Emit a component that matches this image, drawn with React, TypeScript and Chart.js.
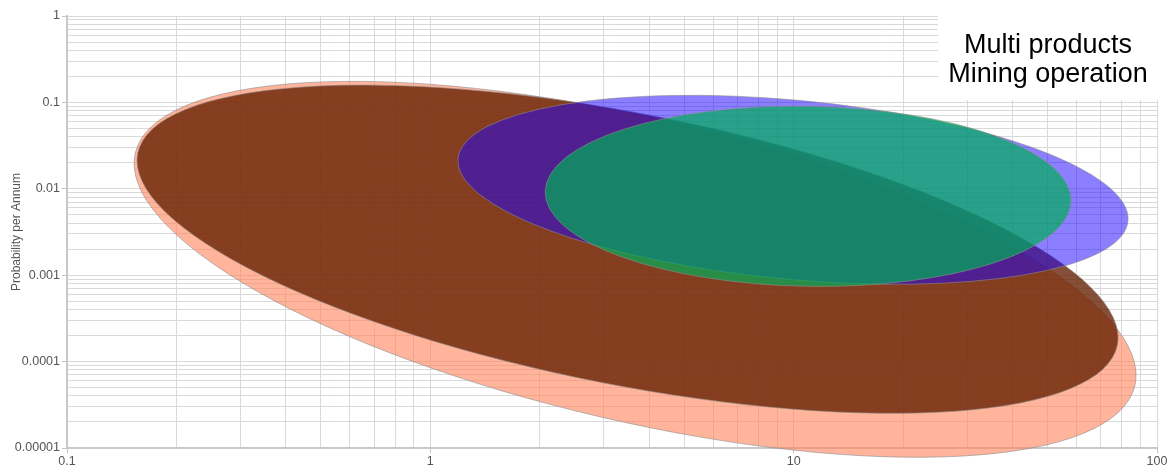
import { useEffect, useRef } from "react";
import { Chart, registerables } from "chart.js";

Chart.register(...registerables);

// ---- axis ticks ----
const xMajorTicks = [0.1, 1, 10, 100];
const xTickLabels = ["0.1", "1", "10", "100"];
const yMajorTicks = [0.00001, 0.0001, 0.001, 0.01, 0.1, 1];
const yTickLabels = ["0.00001", "0.0001", "0.001", "0.01", "0.1", "1"];
const minorMultipliers = [1, 2, 3, 4, 5, 6, 7, 8, 9];

// ---- series: each ellipse given by its centre, the end of its major axis and the end of its minor axis ----
const seriesNames = ["Product group A", "Product group B", "Product group C", "Product group D"];
const ellipseCentres = [
  [3.66, 0.00117],
  [3.49, 0.002],
  [9.96, 0.00974],
  [10.96, 0.00819],
];
const majorAxisEnds = [
  [86.9, 0.0000527],
  [77.8, 0.0001556],
  [83.2, 0.00424],
  [58.0, 0.00724],
];
const minorAxisEnds = [
  [2.94, 0.0000229],
  [2.96, 0.0000573],
  [9.45, 0.000904],
  [10.84, 0.000744],
];
const fillColours = [
  "rgba(255,130,88,0.6)",
  "rgba(100,30,0,0.78)",
  "rgba(25,0,255,0.5)",
  "rgba(0,175,88,0.7)",
];

const titleLines = ["Multi products", "Mining operation"];
const yAxisTitle = "Probability per Annum";

const FONT = '"Liberation Sans", Arial, sans-serif';

function buildTicks(majors: number[]) {
  const out: { value: number; major: boolean }[] = [];
  for (let i = 0; i < majors.length; i++) {
    if (i === majors.length - 1) {
      out.push({ value: majors[i], major: true });
    } else {
      for (const k of minorMultipliers) {
        out.push({ value: parseFloat((majors[i] * k).toPrecision(8)), major: k === 1 });
      }
    }
  }
  return out;
}

function labelFor(v: number, majors: number[], labels: string[]) {
  for (let i = 0; i < majors.length; i++) {
    if (Math.abs(Math.log10(v) - Math.log10(majors[i])) < 1e-7) return labels[i];
  }
  return "";
}

const ellipsePlugin = {
  id: "ellipses",
  afterDatasetsDraw(chart: any) {
    const { ctx } = chart;
    const xs = chart.scales.x;
    const ys = chart.scales.y;
    chart.data.datasets.forEach((ds: any) => {
      const [c, m, n] = ds.data;
      const cx = xs.getPixelForValue(c.x);
      const cy = ys.getPixelForValue(c.y);
      const mx = xs.getPixelForValue(m.x) - cx;
      const my = ys.getPixelForValue(m.y) - cy;
      const nx = xs.getPixelForValue(n.x) - cx;
      const ny = ys.getPixelForValue(n.y) - cy;
      ctx.save();
      ctx.beginPath();
      ctx.ellipse(cx, cy, Math.hypot(mx, my), Math.hypot(nx, ny), Math.atan2(my, mx), 0, Math.PI * 2);
      ctx.fillStyle = ds.backgroundColor;
      ctx.fill();
      ctx.strokeStyle = ds.borderColor;
      ctx.lineWidth = ds.borderWidth;
      ctx.stroke();
      ctx.restore();
    });
  },
  afterDraw(chart: any) {
    const { ctx, chartArea } = chart;
    const right = chartArea.right + 3;
    const left = right - 222;
    ctx.save();
    ctx.fillStyle = "#ffffff";
    ctx.fillRect(left, 6, right - left, 94);
    ctx.fillStyle = "#000000";
    ctx.font = `27px ${FONT}`;
    ctx.textAlign = "center";
    ctx.textBaseline = "alphabetic";
    const mid = (left + right) / 2 - 1;
    ctx.fillText(titleLines[0], mid, 53);
    ctx.fillText(titleLines[1], mid, 82);
    ctx.restore();
  },
};

export default function App() {
  const ref = useRef<HTMLCanvasElement>(null);
  useEffect(() => {
    document.body.style.margin = "0";
    const canvas = ref.current!;
    const datasets = seriesNames.map((name, i) => ({
      label: name,
      data: [
        { x: ellipseCentres[i][0], y: ellipseCentres[i][1] },
        { x: majorAxisEnds[i][0], y: majorAxisEnds[i][1] },
        { x: minorAxisEnds[i][0], y: minorAxisEnds[i][1] },
      ],
      backgroundColor: fillColours[i],
      borderColor: "rgba(140,140,140,0.6)",
      borderWidth: 1,
      pointRadius: 0,
      showLine: false,
    }));
    const tickFont = { family: FONT, size: 12.5 };
    const gridColor = "#d9d9d9";
    const tickColor = (c: any) => (c.tick && c.tick.major ? "#c4c4c4" : "rgba(0,0,0,0)");
    const chart = new Chart(canvas, {
      type: "scatter",
      data: { datasets },
      options: {
        responsive: false,
        animation: false,
        layout: { padding: { left: 0, right: 14, top: 16, bottom: 0 } },
        plugins: { legend: { display: false }, tooltip: { enabled: false } },
        scales: {
          x: {
            type: "logarithmic",
            min: 0.1,
            max: 100,
            afterBuildTicks: (s: any) => {
              s.ticks = buildTicks(xMajorTicks);
            },
            afterFit: (s: any) => {
              s.height = 20;
            },
            ticks: {
              autoSkip: false,
              maxRotation: 0,
              padding: 1,
              color: "#555",
              font: tickFont,
              callback: (v: any) => labelFor(Number(v), xMajorTicks, xTickLabels),
            },
            grid: { color: gridColor, tickLength: 5, tickColor },
            border: { color: "#c8c8c8", width: 2 },
          },
          y: {
            type: "logarithmic",
            min: 0.00001,
            max: 1,
            afterBuildTicks: (s: any) => {
              s.ticks = buildTicks(yMajorTicks);
            },
            afterFit: (s: any) => {
              s.width = 67;
            },
            ticks: {
              autoSkip: false,
              padding: 2,
              color: "#555",
              font: tickFont,
              callback: (v: any) => labelFor(Number(v), yMajorTicks, yTickLabels),
            },
            title: {
              display: true,
              text: yAxisTitle,
              color: "#555",
              font: { family: FONT, size: 12 },
              padding: { top: 9, bottom: 0 },
            },
            grid: { color: gridColor, tickLength: 5, tickColor },
            border: { color: "#c8c8c8", width: 2 },
          },
        },
      },
      plugins: [ellipsePlugin],
    } as any);
    return () => chart.destroy();
  }, []);
  return (
    <div style={{ width: 1171, height: 468 }}>
      <canvas ref={ref} width={1171} height={468} style={{ display: "block" }} />
    </div>
  );
}
